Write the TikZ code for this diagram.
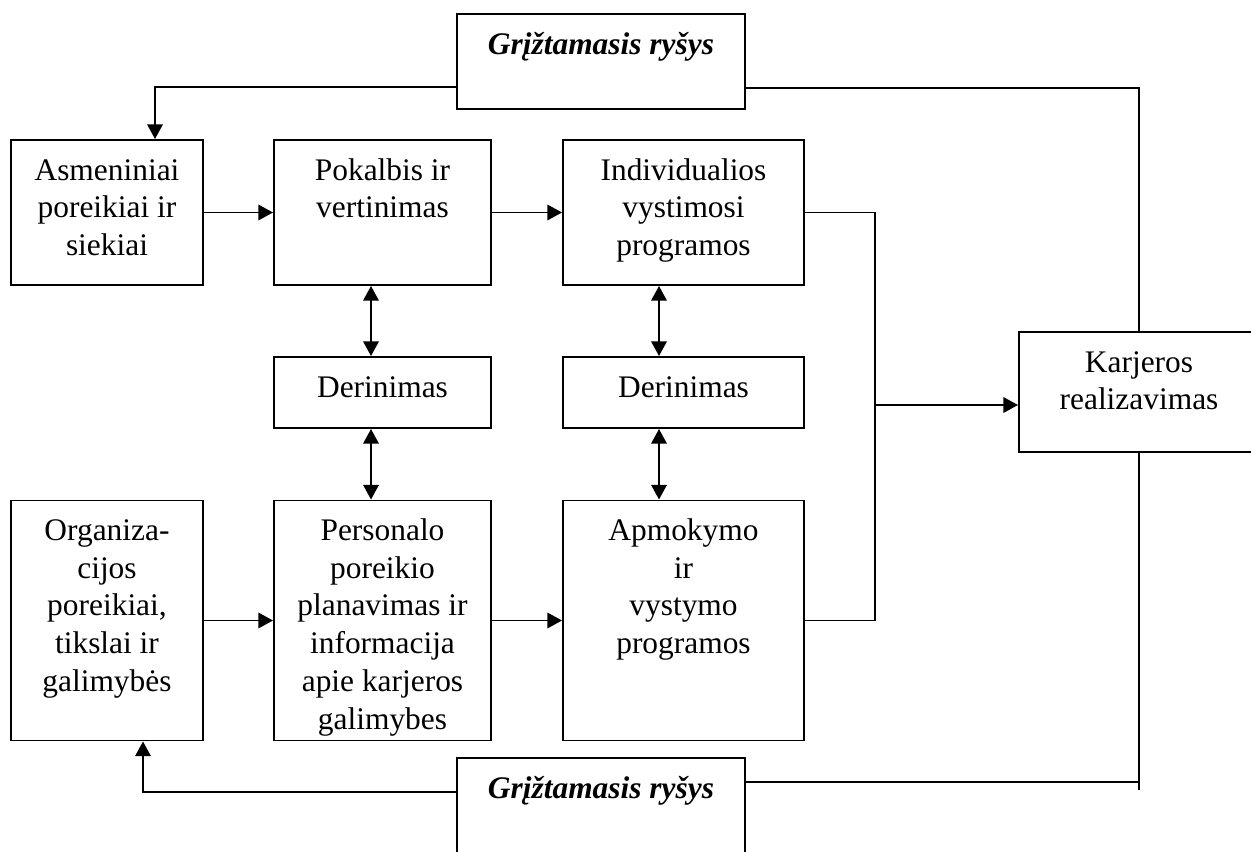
\documentclass[tikz,border=0pt]{standalone}
\usepackage{fontspec}
\setmainfont{Liberation Serif}
\usetikzlibrary{positioning,arrows.meta,calc}
\newlength{\vnt}
\setlength{\vnt}{0.382pt}
\newcommand{\turinys}[3]{\parbox[c][#2\vnt][t]{#1\vnt}{\centering\rule{0pt}{15.3pt}#3}}
\tikzset{
	langelis/.style={draw, inner sep=0pt, font=\fontsize{12}{14.4}\selectfont},
	rodykle/.style={-{Triangle[length=5.6pt, width=5.9pt]}},
	abipus/.style={{Triangle[length=5.6pt, width=5.9pt]}-{Triangle[length=5.6pt, width=5.9pt]}}
}

\begin{document}
\begin{tikzpicture}[x=0.382pt, y=-0.382pt, line width=0.75pt]

	\useasboundingbox (0,0) rectangle (1251,851);

	\node[langelis] (gr1) at (601,61.5) {\turinys{288}{95}{\textbf{\textit{Grįžtamasis ryšys}}}};
	\node[langelis] (gr2) at (601,805.5) {\turinys{288}{95}{\textbf{\textit{Grįžtamasis ryšys}}}};

	\node[langelis] (asm) at (107,212.5) {\turinys{192}{145}{Asmeniniai\\poreikiai ir\\siekiai}};
	\node[langelis] (pok) at (382.5,212.5) {\turinys{217}{145}{Pokalbis ir\\vertinimas}};
	\node[langelis] (ind) at (683.5,212.5) {\turinys{241}{145}{Individualios\\vystimosi\\programos}};

	\node[langelis] (der1) at (382.5,392.5) {\turinys{217}{71}{Derinimas}};
	\node[langelis] (der2) at (683.5,392.5) {\turinys{241}{71}{Derinimas}};

	\node[langelis] (org) at (107,620.5) {\turinys{192}{240}{Organiza-\\cijos\\poreikiai,\\tikslai ir\\galimybės}};
	\node[langelis] (pers) at (382.5,620.5) {\turinys{217}{240}{Personalo\\poreikio\\planavimas ir\\informacija\\apie karjeros\\galimybes}};
	\node[langelis] (apm) at (683.5,620.5) {\turinys{241}{240}{Apmokymo\\ir\\vystymo\\programos}};

	\node[langelis] (kar) at (1139,392) {\turinys{240}{120}{Karjeros\\realizavimas}};

	\coordinate (s1) at (371,0);
	\coordinate (s2) at (659,0);
	\coordinate (mazgas) at (875,405);
	\coordinate (gr2d) at ($(gr2.east)+(0,-23.5)$);

	\draw[rodykle] (asm) -- (pok);
	\draw[rodykle] (pok) -- (ind);
	\draw[rodykle] (org) -- (pers);
	\draw[rodykle] (pers) -- (apm);

	\draw[abipus] (pok.south -| s1) -- (der1.north -| s1);
	\draw[abipus] (der1.south -| s1) -- (pers.north -| s1);
	\draw[abipus] (ind.south -| s2) -- (der2.north -| s2);
	\draw[abipus] (der2.south -| s2) -- (apm.north -| s2);

	\draw (ind.east) -| (mazgas);
	\draw (apm.east) -| (mazgas);
	\draw[rodykle] (mazgas) -- (mazgas -| kar.west);

	\draw[rodykle] ($(gr1.west)+(0,25.5)$) -| ($(asm.north)+(48,0)$);
	\draw ($(gr1.east)+(0,26.5)$) -| (kar.north);

	\draw (kar.south) -- ($(kar.south)+(0,337)$);
	\draw (gr2d) -- (gr2d -| kar.south);
	\draw[rodykle] ($(gr2.west)+(0,-13.5)$) -| ($(org.south)+(36,0)$);

\end{tikzpicture}
\end{document}
